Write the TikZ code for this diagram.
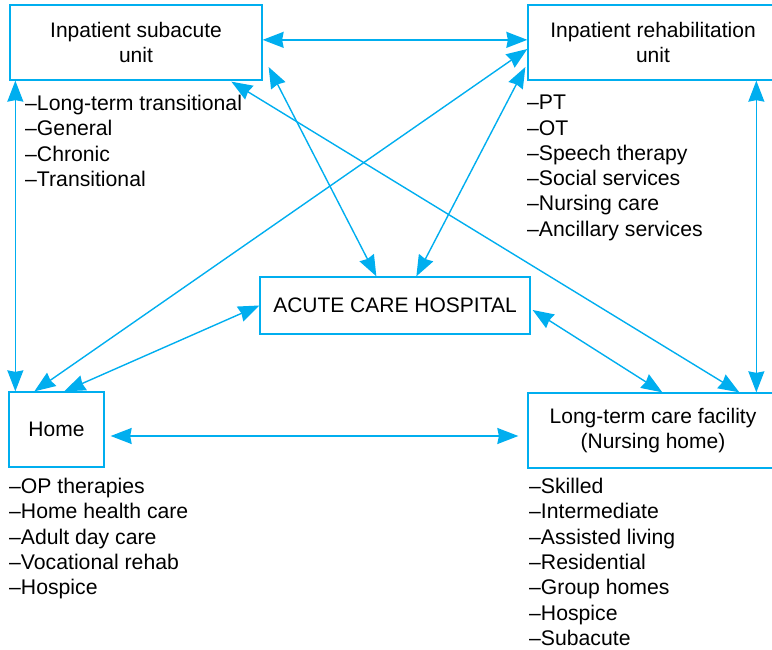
\documentclass[tikz,border=0pt]{standalone}
\usepackage{fontspec}
\setmainfont{Liberation Sans}
\usetikzlibrary{arrows.meta,calc}
\definecolor{cy}{RGB}{0,174,239}
\tikzset{
  box/.style={draw=cy, line width=1.3pt, fill=white, align=center, inner sep=0pt,
    font=\fontsize{21}{25.3}\selectfont, text=black},
  lst/.style={anchor=north west, align=left, inner sep=0pt,
    font=\fontsize{21.2}{25.3}\selectfont, text=black},
  tip/.tip={Stealth[inset=1.5pt,length=21pt,width=16pt]},
  arr/.style={draw=cy, line width=1.4pt, tip-tip}
}
\begin{document}
\begin{tikzpicture}[x=1pt,y=-1pt]
\useasboundingbox (0,0) rectangle (772,650);
\clip (0,0) rectangle (772,650);
% boxes
\node[box, minimum width=252pt, minimum height=75pt] (sub) at (136,42.5) {Inpatient subacute\\unit};
\node[box, minimum width=250pt, minimum height=75pt] (reh) at (653,42.5) {Inpatient rehabilitation\\unit};
\node[box, minimum width=270pt, minimum height=57pt] (acute) at (395,305.5) {ACUTE CARE HOSPITAL};
\node[box, minimum width=95pt, minimum height=75pt] (home) at (56.5,429.5) {Home};
\node[box, minimum width=250pt, minimum height=75pt] (ltc) at (653,430.5) {Long-term care facility\\(Nursing home)};
% lists
\node[lst] (subl) at (25,95) {--Long-term transitional\\--General\\--Chronic\\--Transitional};
\node[lst] (rehl) at (527,95) {--PT\\--OT\\--Speech therapy\\--Social services\\--Nursing care\\--Ancillary services};
\node[lst] (homel) at (9,478) {--OP therapies\\--Home health care\\--Adult day care\\--Vocational rehab\\--Hospice};
\node[lst] (ltcl) at (529,478) {--Skilled\\--Intermediate\\--Assisted living\\--Residential\\--Group homes\\--Hospice\\--Subacute};
% connectors
\draw[arr] ($(sub.north east)+(0,35.5)$) -- ($(reh.north west)+(0,35.5)$);
\draw[arr] ($(sub.south west)+(6,0)$) -- ($(home.north west)+(7,0)$);
\draw[arr] ($(reh.south west)+(229,0)$) -- ($(ltc.north west)+(229,0)$);
\draw[arr] ($(home.east)+(6,6.5)$) -- ($(ltc.west)+(-9,5.5)$);
\draw[arr] ($(sub.east)+(6,24.5)$) -- ($(acute.north west)+(117,0)$);
\draw[arr] ($(reh.west)+(-2,24.5)$) -- ($(acute.north west)+(157,0)$);
\draw[arr] ($(reh.west)+(0,6.5)$) -- ($(home.north west)+(26,0)$);
\draw[arr] ($(sub.south west)+(222,1)$) -- ($(ltc.north west)+(212,0)$);
\draw[arr] (acute.west) -- ($(home.north west)+(56,0)$);
\draw[arr] ($(acute.east)+(2,4.5)$) -- ($(ltc.north west)+(135,0)$);
\end{tikzpicture}
\end{document}
